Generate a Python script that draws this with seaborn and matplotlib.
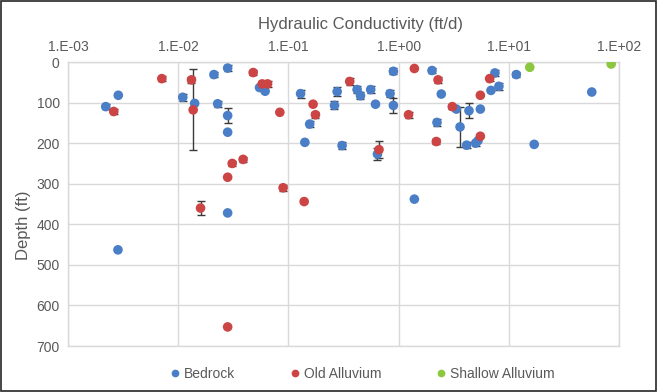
import numpy as np
import pandas as pd
import matplotlib
matplotlib.use("Agg")
import matplotlib.pyplot as plt
from matplotlib.patches import Rectangle
from matplotlib.ticker import FixedLocator, FuncFormatter
import seaborn as sns

# hydraulic conductivity (ft/d), depth (ft), error half-width (ft)
bedrock_k = [0.00286, 0.0022, 0.0110, 0.0141, 0.0211, 0.0281, 0.0228, 0.0281, 0.0281, 0.0281,
             0.00284, 0.0547, 0.0615, 0.129, 0.156, 0.141, 0.277, 0.262, 0.420, 0.451,
             0.558, 0.617, 0.836, 0.897, 0.897, 0.307, 0.643, 1.39, 2.01, 2.44,
             3.34, 3.61, 2.23, 4.14, 4.35, 5.52, 5.0, 5.25, 6.89, 7.48,
             8.13, 11.7, 56.6, 17.0]
bedrock_depth = [82, 110, 87, 102, 31, 15, 103, 132, 173, 372,
                 463, 63, 72, 78, 153, 198, 73, 107, 68, 83,
                 68, 104, 78, 107, 23, 206, 227, 338, 21, 79,
                 116, 160, 149, 205, 120, 116, 200, 194, 70, 27,
                 60, 31, 74, 203]
bedrock_err = [0, 7, 8, 0, 7, 7, 7, 18, 0, 0,
               0, 0, 0, 10, 8, 0, 12, 10, 8, 8,
               8, 0, 8, 18, 7, 8, 14, 0, 6, 0,
               0, 50, 8, 7, 18, 0, 7, 0, 0, 8,
               8, 7, 0, 0]

old_k = [0.0026, 0.0071, 0.0132, 0.01367, 0.0479, 0.0578, 0.0647, 0.0836, 0.0388, 0.0309,
         0.0281, 0.0895, 0.1675, 0.176, 0.139, 0.01595, 0.0281, 0.360, 0.664, 1.39,
         1.23, 2.28, 3.07, 2.20, 5.52, 5.52, 6.70]
old_depth = [122, 41, 44, 118, 26, 54, 54, 124, 240, 250,
             284, 310, 104, 130, 344, 360, 653, 48, 216, 16,
             130, 44, 110, 196, 82, 183, 41]
old_err = [7, 7, 7, 100, 7, 7, 7, 0, 7, 7,
           0, 7, 0, 7, 0, 18, 0, 8, 21, 0,
           7, 7, 5, 7, 0, 0, 7]

shallow_k = [15.5, 84.9]
shallow_depth = [13, 5]
shallow_err = [0, 0]

series = ["Bedrock", "Old Alluvium", "Shallow Alluvium"]
colors = {"Bedrock": "#4A7EC7", "Old Alluvium": "#CC4444", "Shallow Alluvium": "#8DC63F"}

df = pd.concat([
    pd.DataFrame({"k": bedrock_k, "depth": bedrock_depth, "err": bedrock_err, "unit": "Bedrock"}),
    pd.DataFrame({"k": old_k, "depth": old_depth, "err": old_err, "unit": "Old Alluvium"}),
    pd.DataFrame({"k": shallow_k, "depth": shallow_depth, "err": shallow_err, "unit": "Shallow Alluvium"}),
], ignore_index=True)

sns.set_style("white")
plt.rcParams["font.family"] = ["Liberation Sans", "DejaVu Sans"]
text_color = "#595959"
grid_color = "#D9D9D9"

fig = plt.figure(figsize=(6.57, 3.92), dpi=100)
ax = fig.add_axes([68 / 657, 1 - 346 / 392, 551 / 657, 284 / 392])

# error bars below the markers
eb = df[df["err"] > 0]
ax.errorbar(eb["k"], eb["depth"], yerr=eb["err"], fmt="none",
            ecolor="#3A3A3A", elinewidth=1, capsize=3, capthick=1, zorder=2)

sns.scatterplot(data=df, x="k", y="depth", hue="unit", hue_order=series,
                palette=colors, s=48, edgecolor="none", ax=ax, zorder=3)

ax.set_xscale("log")
ax.set_xlim(1e-3, 1e2)
ax.set_ylim(700, 0)
ax.xaxis.set_major_locator(FixedLocator([1e-3, 1e-2, 1e-1, 1e0, 1e1, 1e2]))
ax.xaxis.set_minor_locator(FixedLocator([]))
ax.xaxis.set_major_formatter(FuncFormatter(lambda v, p: "1.E{:+03d}".format(int(round(np.log10(v))))))
ax.set_yticks(range(0, 701, 100))
ax.xaxis.tick_top()
ax.tick_params(axis="both", length=0, labelsize=10, labelcolor=text_color, pad=6)
ax.grid(True, color=grid_color, linewidth=1)
for s in ax.spines.values():
    s.set_color(grid_color)
    s.set_linewidth(1)

ax.set_xlabel("")
ax.set_ylabel("Depth (ft)", fontsize=12, color=text_color)
ax.yaxis.set_label_coords(-0.068, 0.426)
fig.text(0.548, 1 - 24 / 392, "Hydraulic Conductivity (ft/d)", ha="center", va="center",
         fontsize=12, color=text_color)

handles, labels = ax.get_legend_handles_labels()
ax.legend_.remove()
fig.legend(handles, labels, loc="center", bbox_to_anchor=(0.551, 0.046), ncol=3,
           frameon=False, fontsize=10, labelcolor=text_color, columnspacing=3.9,
           handlelength=0.8, handletextpad=0.25, markerscale=0.8)

fig.patches.append(Rectangle((0.002, 0.003), 0.996, 0.994, transform=fig.transFigure,
                             fill=False, edgecolor="#262626", linewidth=1.2))

fig.savefig("out.png", dpi=100)
